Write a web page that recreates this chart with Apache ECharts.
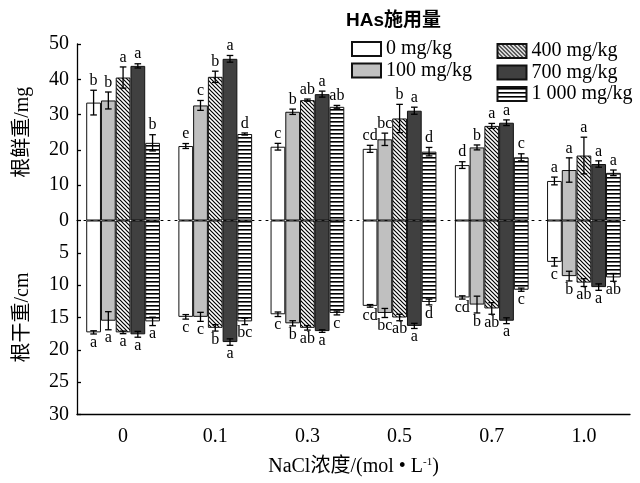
<!DOCTYPE html>
<html>
<head>
<meta charset="utf-8">
<script src="https://cdn.jsdelivr.net/npm/echarts@6/dist/echarts.min.js"></script>
<style>html,body{margin:0;padding:0;background:#fff;}#c{width:640px;height:483px;}</style>
</head>
<body>
<div id="c"></div>
<script>
// ---------- data ----------
const categories = ['0', '0.1', '0.3', '0.5', '0.7', '1.0'];
const seriesNames = ['0 mg/kg', '100 mg/kg', '400 mg/kg', '700 mg/kg', '1 000 mg/kg'];
const upperTicks = [0, 50, 10];   // min, max, interval of 根鲜重 axis
const lowerTicks = [0, 30, 5];    // min, max, interval of 根干重 axis

// 根鲜重/mg (upper panel) — mean per HAs dose, across NaCl levels
const fresh0    = [33.4, 21.1, 20.9, 20.3, 15.7, 11.2];
const fresh100  = [34.0, 32.6, 30.8, 23.0, 20.7, 14.3];
const fresh400  = [40.5, 40.7, 34.1, 28.9, 26.8, 18.4];
const fresh700  = [43.8, 45.8, 35.8, 31.1, 27.7, 16.0];
const fresh1000 = [22.0, 24.5, 32.2, 19.5, 17.9, 13.5];
const freshErr0    = [3.5, 0.7, 0.95, 1.0, 0.95, 1.1];
const freshErr100  = [2.4, 1.4, 0.75, 1.75, 0.7, 3.45];
const freshErr400  = [3.0, 1.6, 0.3, 4.0, 0.7, 5.2];
const freshErr700  = [0.6, 0.95, 0.85, 1.0, 0.8, 0.9];
const freshErr1000 = [2.3, 0.3, 0.4, 1.2, 1.0, 0.8];
const freshSig0    = ['b', 'e', 'c', 'cd', 'd', 'a'];
const freshSig100  = ['b', 'c', 'b', 'bc', 'b', 'a'];
const freshSig400  = ['a', 'b', 'ab', 'b', 'a', 'a'];
const freshSig700  = ['a', 'a', 'a', 'a', 'a', 'a'];
const freshSig1000 = ['b', 'd', 'ab', 'd', 'c', 'a'];

// 根干重/cm (lower panel)
const dry0    = [17.3, 14.9, 14.5, 13.2, 11.9, 6.4];
const dry100  = [15.5, 14.9, 15.9, 14.3, 13.0, 8.6];
const dry400  = [17.3, 16.6, 16.6, 15.0, 13.6, 9.6];
const dry700  = [17.6, 18.8, 17.1, 16.3, 15.5, 10.3];
const dry1000 = [15.6, 15.6, 14.3, 12.6, 10.7, 8.8];
const dryErr0    = [0.25, 0.35, 0.35, 0.2, 0.25, 0.65];
const dryErr100  = [1.4, 0.7, 0.4, 0.7, 1.3, 0.75];
const dryErr400  = [0.2, 0.5, 0.35, 0.5, 0.9, 0.6];
const dryErr700  = [0.45, 0.5, 0.2, 0.4, 0.45, 0.5];
const dryErr1000 = [0.65, 0.5, 0.3, 0.45, 0.25, 0.6];
const drySig0    = ['a', 'c', 'c', 'cd', 'cd', 'c'];
const drySig100  = ['a', 'c', 'b', 'bc', 'b', 'b'];
const drySig400  = ['a', 'b', 'ab', 'ab', 'ab', 'ab'];
const drySig700  = ['a', 'a', 'a', 'a', 'a', 'a'];
const drySig1000 = ['a', 'bc', 'c', 'd', 'c', 'ab'];

// ---------- build ----------
const freshMeans = [fresh0, fresh100, fresh400, fresh700, fresh1000];
const freshErrs = [freshErr0, freshErr100, freshErr400, freshErr700, freshErr1000];
const freshSigs = [freshSig0, freshSig100, freshSig400, freshSig700, freshSig1000];
const dryMeans = [dry0, dry100, dry400, dry700, dry1000];
const dryErrs = [dryErr0, dryErr100, dryErr400, dryErr700, dryErr1000];
const drySigs = [drySig0, drySig100, drySig400, drySig700, drySig1000];

function makeTile(w, h, draw) {
  const c = document.createElement('canvas');
  c.width = w; c.height = h;
  const ctx = c.getContext('2d');
  ctx.fillStyle = '#fff'; ctx.fillRect(0, 0, w, h);
  draw(ctx, w, h);
  return c;
}
const diagTile = makeTile(4, 4, function (ctx, w, h) {
  ctx.strokeStyle = '#000'; ctx.lineWidth = 1.2;
  ctx.beginPath();
  ctx.moveTo(-1, -1); ctx.lineTo(w + 1, h + 1);
  ctx.moveTo(-1, h - 1); ctx.lineTo(1, h + 1);
  ctx.moveTo(w - 1, -1); ctx.lineTo(w + 1, 1);
  ctx.stroke();
});
const stripeTile = makeTile(4, 4, function (ctx, w, h) {
  ctx.fillStyle = '#000'; ctx.fillRect(0, 1, w, 1.6);
});

const fills = [
  '#ffffff',
  '#c0c0c0',
  { image: diagTile, repeat: 'repeat' },
  '#404040',
  { image: stripeTile, repeat: 'repeat' }
];

const serif = "'Liberation Serif','Times New Roman','Noto Sans CJK SC',serif";
const mixed = "'Liberation Serif','Noto Sans CJK SC',serif";

function errRender(sigs, down) {
  return function (params, api) {
    const cat = api.value(0), val = api.value(1), err = api.value(2), si = api.value(3);
    const band = api.size([1, 0])[0];
    const bw = band * 0.8 / 5;
    const cx = api.coord([cat, 0])[0] - band * 0.4 + bw * (si + 0.5);
    const y1 = api.coord([cat, val + err])[1];
    const y2 = api.coord([cat, val - err])[1];
    const yMin = Math.min(y1, y2), yMax = Math.max(y1, y2);
    const cap = 3.3;
    const ls = { stroke: '#000', lineWidth: 1.3 };
    const txt = sigs[si][cat];
    return {
      type: 'group',
      children: [
        { type: 'line', shape: { x1: cx, y1: yMin, x2: cx, y2: yMax }, style: ls },
        { type: 'line', shape: { x1: cx - cap, y1: yMin, x2: cx + cap, y2: yMin }, style: ls },
        { type: 'line', shape: { x1: cx - cap, y1: yMax, x2: cx + cap, y2: yMax }, style: ls },
        {
          type: 'text',
          style: {
            text: txt, x: cx, y: down ? yMax + 0.5 : yMin - 1.5,
            align: 'center', verticalAlign: down ? 'top' : 'bottom',
            font: '16px ' + serif, fill: '#000'
          }
        }
      ]
    };
  };
}

const series = [];
for (let i = 0; i < 5; i++) {
  series.push({
    name: seriesNames[i], type: 'bar', xAxisIndex: 0, yAxisIndex: 0,
    data: freshMeans[i], barGap: '0%', barCategoryGap: '20%',
    itemStyle: { color: fills[i], borderColor: '#111', borderWidth: 1 },
    emphasis: { disabled: true }
  });
}
for (let i = 0; i < 5; i++) {
  series.push({
    name: seriesNames[i], type: 'bar', xAxisIndex: 1, yAxisIndex: 1,
    data: dryMeans[i], barGap: '0%', barCategoryGap: '20%',
    itemStyle: { color: fills[i], borderColor: '#111', borderWidth: 1 },
    emphasis: { disabled: true }
  });
}
const freshErrData = [], dryErrData = [];
for (let i = 0; i < 5; i++) {
  for (let c = 0; c < categories.length; c++) {
    freshErrData.push([c, freshMeans[i][c], freshErrs[i][c], i]);
    dryErrData.push([c, dryMeans[i][c], dryErrs[i][c], i]);
  }
}
series.push({
  name: 'errFresh', type: 'custom', xAxisIndex: 0, yAxisIndex: 0, z: 5,
  renderItem: errRender(freshSigs, false), data: freshErrData,
  encode: { x: 0, y: 1 }, clip: false, silent: true
});
series.push({
  name: 'errDry', type: 'custom', xAxisIndex: 1, yAxisIndex: 1, z: 5,
  renderItem: errRender(drySigs, true), data: dryErrData,
  encode: { x: 0, y: 1 }, clip: false, silent: true
});

const legendCommon = {
  orient: 'vertical', icon: 'rect', itemWidth: 29, itemHeight: 14, itemGap: 1.5,
  selectedMode: false,
  textStyle: { fontFamily: serif, fontSize: 20, lineHeight: 20, color: '#000' }
};

const option = {
  animation: false,
  backgroundColor: '#fff',
  graphic: [{
    type: 'text', left: 346, top: 11,
    style: { text: 'HAs施用量', font: "bold 19px 'Liberation Sans','Noto Sans CJK SC',sans-serif", fill: '#000' }
  }],
  legend: [
    Object.assign({ left: 346, top: 34, data: [seriesNames[0], seriesNames[1]] }, legendCommon),
    Object.assign({ left: 491.5, top: 36, data: [seriesNames[2], seriesNames[3], seriesNames[4]] }, legendCommon)
  ],
  grid: [
    { left: 77, width: 553, top: 44, height: 176.5 },
    { left: 77, width: 553, top: 220.5, height: 194 }
  ],
  xAxis: [
    {
      type: 'category', gridIndex: 0, data: categories,
      axisLine: { show: true, lineStyle: { color: '#000', width: 1, type: [2, 5] } },
      axisTick: { show: false }, axisLabel: { show: false }
    },
    {
      type: 'category', gridIndex: 1, data: categories, position: 'bottom',
      axisLine: { onZero: false, lineStyle: { color: '#000', width: 1.3 } },
      axisTick: { inside: true, alignWithLabel: true, length: 5, lineStyle: { color: '#000', width: 1.3 } },
      axisLabel: { color: '#000', fontFamily: serif, fontSize: 20, margin: 12 },
      name: '{a|NaCl浓度/(mol • L}{s|-1}{a|)}',
      nameLocation: 'middle', nameGap: 42,
      nameTextStyle: {
        rich: {
          a: { fontFamily: mixed, fontSize: 20, color: '#000' },
          s: { fontFamily: serif, fontSize: 11, color: '#000', verticalAlign: 'top', padding: [0, 0, 10, 0] }
        }
      }
    }
  ],
  yAxis: [
    {
      type: 'value', gridIndex: 0, min: upperTicks[0], max: upperTicks[1], interval: upperTicks[2],
      axisLine: { show: true, lineStyle: { color: '#000', width: 1.3 } },
      axisTick: { show: true, inside: true, length: 4, lineStyle: { color: '#000', width: 1.3 } },
      axisLabel: { color: '#000', fontFamily: serif, fontSize: 20, margin: 8 },
      splitLine: { show: false },
      name: '根鲜重/mg', nameLocation: 'middle', nameGap: 44,
      nameTextStyle: { fontFamily: mixed, fontSize: 20, color: '#000' }
    },
    {
      type: 'value', gridIndex: 1, inverse: true, min: lowerTicks[0], max: lowerTicks[1], interval: lowerTicks[2],
      axisLine: { show: true, lineStyle: { color: '#000', width: 1.3 } },
      axisTick: { show: true, inside: true, length: 4, lineStyle: { color: '#000', width: 1.3 } },
      axisLabel: { color: '#000', fontFamily: serif, fontSize: 20, margin: 8, showMinLabel: false },
      splitLine: { show: false },
      name: '根干重/cm', nameLocation: 'middle', nameGap: 44,
      nameTextStyle: { fontFamily: mixed, fontSize: 20, color: '#000' }
    }
  ],
  series: series
};

const chart = echarts.init(document.getElementById('c'), null, { renderer: 'canvas' });
chart.setOption(option);
</script>
</body>
</html>
